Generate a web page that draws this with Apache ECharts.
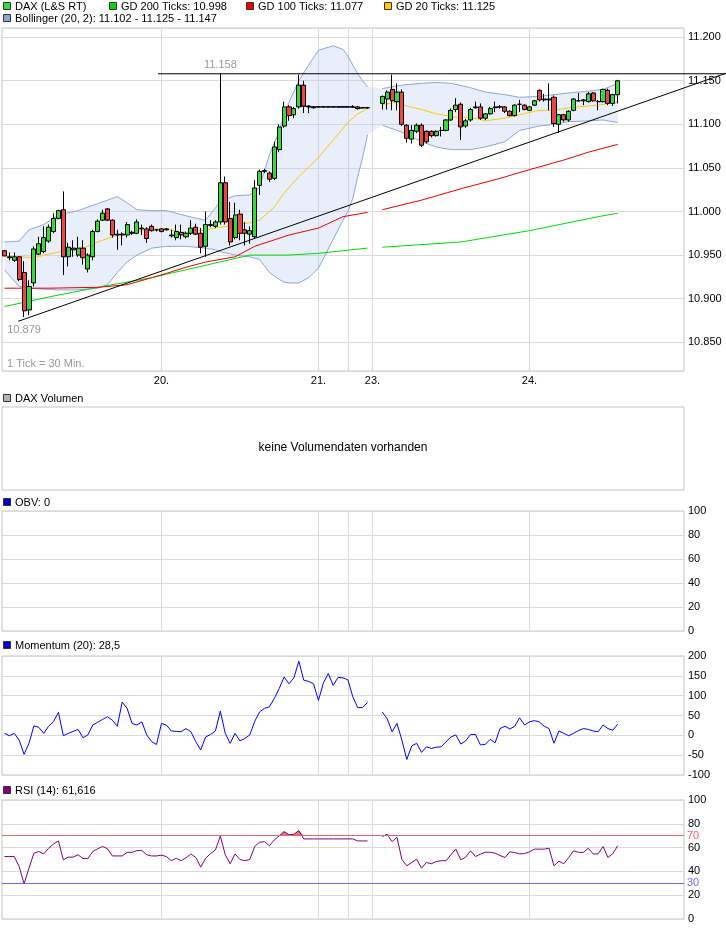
<!DOCTYPE html>
<html><head><meta charset="utf-8">
<script src="https://cdn.jsdelivr.net/npm/echarts@6/dist/echarts.min.js"></script>
<style>html,body{margin:0;padding:0;background:#fff}#c{width:726px;height:928px}</style>
</head><body><div id="c"></div>
<script>
// ---------------- DATA ----------------
// x slots (30-min ticks); day boundaries
const dayTicks = [32, 64, 70, 75, 107];
const dayNames = ['20.', '21.', '', '23.', '24.'];
// candles: [open, high, low, close], null = no data
const ohlc = [
[10955,10956,10949,10949],[10948,10953,10944,10947],[10944,10953,10942,10948],[10948,10949,10920,10922],
[10930,10943,10879,10886],[10887,10921,10881,10914],[10918,10960,10914,10957],[10951,10971,10950,10963],
[10954,10983,10952,10970],[10966,10985,10964,10982],[10977,10998,10975,10992],[10992,11002,10991,11001],
[11002,11023,10927,10948],[10948,10964,10937,10959],[10958,10967,10948,10956],[10950,10971,10948,10958],
[10958,10967,10939,10947],[10934,10952,10930,10950],[10948,10979,10944,10977],[10977,10991,10976,10989],
[10990,11002,10989,10998],[11003,11004,10989,10990],[10990,10991,10970,10973],[10973,10979,10956,10974],
[10974,10976,10961,10973],[10973,10988,10970,10985],[10976,10978,10973,10975],[10975,10991,10974,10988],
[10980,10985,10973,10981],[10980,10982,10964,10969],[10983,10985,10977,10978],[10979,10980,10977,10979],
[10980,10981,10976,10977],[10980,10981,10978,10979],[10972,10979,10970,10973],[10970,10985,10967,10977],
[10976,10985,10968,10973],[10971,10977,10969,10975],[10975,10990,10973,10981],[10982,10986,10973,10974],
[10975,10981,10952,10959],[10960,11000,10948,10985],[10984,10990,10982,10985],[10983,10990,10981,10988],
[10988,11158,10985,11033],[11033,11040,10985,10988],[10992,11011,10961,10965],[10970,11010,10968,10996],
[10997,11002,10967,10975],[10979,10988,10961,10975],[10974,10983,10963,10978],[10971,11036,10969,11027],
[11030,11048,11019,11046],[11046,11049,11044,11047],[11044,11046,11034,11037],[11038,11080,11036,11074],
[11071,11100,11068,11097],[11098,11126,11096,11120],[11120,11122,11104,11110],[11111,11120,11107,11118],
[11120,11157,11118,11145],[11145,11150,11113,11121],[11121,11122,11113,11120],[11119,11121,11118,11120],
[11120,11120,11120,11120],[11120,11120,11120,11120],[11120,11120,11120,11120],[11120,11120,11120,11120],
[11120,11120,11120,11120],[11120,11120,11120,11120],[11120,11120,11120,11120],[11120,11122,11119,11120],
[11120,11121,11117,11118],[11119,11119,11119,11119],[11119,11120,11118,11119],null,null,
[11124,11133,11117,11132],[11129,11139,11117,11137],[11140,11157,11116,11127],[11126,11147,11116,11137],
[11137,11140,11098,11100],[11099,11100,11079,11084],[11083,11099,11078,11093],[11092,11101,11090,11099],
[11099,11101,11074,11076],[11092,11093,11078,11080],[11092,11093,11085,11087],[11087,11093,11086,11092],
[11093,11097,11086,11093],[11093,11106,11092,11105],[11105,11118,11104,11116],[11117,11130,11114,11122],
[11123,11125,11082,11097],[11098,11106,11096,11104],[11105,11119,11103,11117],[11119,11126,11118,11120],
[11120,11124,11105,11107],[11107,11113,11105,11112],[11112,11120,11111,11118],[11119,11126,11114,11120],
[11120,11122,11118,11120],[11120,11121,11113,11115],[11115,11116,11109,11110],[11110,11123,11109,11122],
[11123,11128,11114,11123],[11122,11123,11116,11117],[11116,11121,11115,11120],[11122,11128,11121,11127],
[11139,11140,11126,11128],[11128,11135,11126,11129],[11128,11147,11116,11129],[11131,11133,11097,11101],
[11100,11112,11090,11111],[11111,11112,11103,11105],[11105,11116,11103,11115],[11116,11130,11115,11129],
[11127,11136,11126,11127],[11127,11129,11122,11128],[11126,11137,11125,11135],[11136,11137,11126,11127],
[11126,11128,11116,11126],[11126,11141,11125,11140],[11139,11141,11122,11124],[11124,11135,11121,11134],
[11134,11151,11124,11150]
];
// quiet (no-trade) stretch drawn as a flat close line: first and last tick
const flatRange = [60, 74];
// moving averages read at sample ticks: [tick, value]; '-' = break
const gd200 = [[0,10891],[10,10903],[20,10914],[30,10924],[33,10928],[40,10937],[50,10950],[58,10950],[64,10952],[74,10958],[75,'-'],
  [77,10959],[93,10965],[107,10978],[121,10994],[125,10998]];
const gd100 = [[0,10912],[9,10912],[19,10913],[25,10916],[30,10924],[33,10929],[37,10936],[41,10942],[47,10948],[51,10960],[58,10973],[64,10981],[69,10994],[74,10999],[75,'-'],
  [77,11002],[85,11013],[93,11026],[101,11038],[107,11048],[114,11059],[119,11068],[125,11077]];
const gd20 = [[0,10949],[6,10947],[9,10951],[13,10956],[16,10958],[19,10965],[23,10973],[26,10976],[30,10980],[33,10980],[37,10975],[41,10979],[44,10982],[50,10987],[52,10990],[55,11005],[57,11021],[60,11040],[64,11062],[67,11082],[70,11102],[72,11112],[74,11118],[75,'-'],
  [77,11123],[80,11125],[82,11121],[85,11117],[88,11112],[92,11108],[95,11108],[98,11104],[102,11107],[105,11111],[109,11116],[112,11116],[115,11119],[119,11121],[122,11123],[125,11125]];
// bollinger: [tick, lower, upper]
const bollinger = [[0,10933,10965],[3,10914,10966],[5,10912,10979],[8,10911,10985],[11,10910,10996],[15,10910,11001],[19,10912,11009],[21,10916,11013],[23,10930,11017],[25,10942,11010],[27,10950,11002],[30,10958,11001],[33,10960,11001],[37,10960,10995],[41,10958,10990],[43,10956,11004],[44,10954,11012],[47,10950,11018],[50,10948,11019],[52,10945,11028],[54,10930,11065],[56,10922,11092],[57,10919,11110],[58,10918,11125],[60,10918,11150],[62,10924,11168],[64,10935,11185],[67,10968,11190],[69,10990,11186],[70,11000,11178],[71,11015,11168],[72,11040,11158],[73,11062,11150],[74,11088,11143],[75,'-','-'],
  [77,11099,11141],[81,11091,11145],[85,11080,11147],[88,11074,11148],[91,11071,11147],[95,11071,11142],[98,11074,11137],[102,11080,11134],[105,11093,11131],[109,11098,11132],[112,11100,11134],[115,11103,11136],[119,11104,11138],[122,11105,11140],[125,11102,11147]];
// drawn lines: [tick, price]
const supportLine = [[2.8,10874],[147,11158.5]];
const resistanceLine = [[31.3,11158],[147,11158]];
// indicators per tick
const momentum = [5,-1,5,-12,-48,-20,24,20,5,23,35,58,-1,5,10,15,-6,1,26,33,
  40,47,38,23,84,68,30,26,34,1,-16,-23,30,26,11,10,9,17,9,-16,
  -37,-4,2,11,61,5,-20,5,-14,-8,1,35,59,68,72,93,118,147,130,145,
  187,139,136,130,88,132,156,126,146,145,140,97,70,70,83,'-','-',59,42,9,
  30,-12,-61,-27,-20,-43,-29,-33,-30,-29,-16,-4,1,-22,-14,2,2,-24,-23,-10,
  -19,17,23,16,23,44,26,34,37,34,23,17,-20,11,5,-1,5,12,17,15,
  11,9,26,17,13,28.5];
const rsi = [52.5,52.5,52.5,44,29.6,42.7,55.3,56.7,54.7,59.5,63,65.6,49.7,52,52,54,50.8,50.8,56.7,59,
  61,59,53,53,53,56,56,57.5,57.5,54,53,53,53.6,52.5,49,51,49,51.4,54.7,51.7,
  43.6,51,55,58,69.8,54,46.4,54.7,50,49,50,60.9,64.5,65,61.5,66.5,69.8,73.5,70.7,71.2,
  74.3,67.3,67.3,67.3,67.3,67.3,67.3,67.3,67.3,67.3,67.3,67.3,65.6,65.6,65.6,'-','-',69.3,71.2,65,
  68.7,50,44.7,47.5,50.3,42.7,47.5,46.4,48.3,49,49,54,58.7,49.7,52,57.3,52.5,54.5,56.1,56.1,
  55.3,53.4,51.7,56.4,55.9,54.7,55,56.4,58.7,58.7,58.7,59.5,44.7,48.6,46.4,51.7,57.3,56,56,59.5,
  54.7,54.7,60.9,51.7,55,61.616];
const rsiLevels = [70, 30];

// ---------------- LAYOUT / STYLE ----------------
const FONT = '"Liberation Sans", Arial, sans-serif';
const slotCount = 139;
const plotL = 2, plotW = 682;
const slotW = plotW / slotCount;
const cats = Array.from({length: slotCount}, (_, i) => String(i));
const dayLabel = i => { const k = dayTicks.indexOf(i); return k >= 0 ? dayNames[k] : ''; };
const isDay = i => dayTicks.indexOf(i) >= 0;
const fmt = v => Math.round(v).toString().replace(/\B(?=(\d{3})+(?!\d))/g, '.');
const last = arr => arr[arr.length - 1];
const GRID_LINE = '#dadada';
const FRAME = '#c4c4c4';

function catAxis(g, labels) {
  return {
    type: 'category', gridIndex: g, data: cats, boundaryGap: true,
    axisLine: {show: false}, axisTick: {show: false},
    axisLabel: labels ? {show: true, interval: 0, margin: 4, color: '#000', fontSize: 11, fontFamily: FONT,
      formatter: (v) => dayLabel(Number(v))} : {show: false},
    splitLine: {show: true, interval: (i) => isDay(i), alignWithLabel: true, lineStyle: {color: GRID_LINE, width: 1}}
  };
}
function valAxis(g, min, max, interval) {
  return {
    type: 'value', gridIndex: g, position: 'right', min, max, interval,
    axisLine: {show: false}, axisTick: {show: false},
    axisLabel: {color: '#000', fontSize: 11, fontFamily: FONT, margin: 4},
    splitLine: {lineStyle: {color: GRID_LINE, width: 1}}
  };
}
const gridBox = (top, height, show) => ({left: plotL, width: plotW, top, height, show: show !== false,
  borderColor: FRAME, borderWidth: 1, backgroundColor: '#fff'});

const pMin = 10817, pMax = 11210.5;

const candleData = ohlc.map(d => d ? [d[0], d[3], d[2], d[1]] : ['-', '-', '-', '-']);
const flatData = [];
for (let i = flatRange[0]; i <= flatRange[1]; i++) {
  if (ohlc[i]) flatData.push([i, i === flatRange[0] ? ohlc[i][0] : ohlc[i][3]]);
}
const bandRows = bollinger.filter(r => r[1] !== '-');   // fill bridges the data gap
const lineSeries = (name, data, color, extra) => Object.assign({
  name, type: 'line', xAxisIndex: 0, yAxisIndex: 0, data, symbol: 'none', showSymbol: false,
  connectNulls: false, lineStyle: {color, width: 1}, itemStyle: {color}, z: 3, silent: true
}, extra || {});

const option = {
  animation: false,
  grid: [
    gridBox(28, 343),
    {left: plotL, width: 724, top: 28, height: 343, show: false},
    gridBox(407, 83),
    gridBox(511, 120),
    gridBox(656, 119),
    gridBox(800, 119)
  ],
  xAxis: [
    catAxis(0, true),
    {type: 'value', gridIndex: 1, min: -0.5, max: 724 / slotW - 0.5, show: false},
    {type: 'category', gridIndex: 2, data: cats, show: false},
    catAxis(3), catAxis(4), catAxis(5)
  ],
  yAxis: [
    {type: 'value', gridIndex: 0, position: 'right', min: pMin, max: pMax, minInterval: 50, maxInterval: 50, splitNumber: 8,
      axisLine: {show: false}, axisTick: {show: false},
      axisLabel: {color: '#000', fontSize: 11, fontFamily: FONT, margin: 4, showMinLabel: false, showMaxLabel: false, formatter: v => fmt(v)},
      splitLine: {lineStyle: {color: GRID_LINE, width: 1}}},
    {type: 'value', gridIndex: 1, min: pMin, max: pMax, show: false},
    {type: 'value', gridIndex: 2, show: false, min: 0, max: 1},
    valAxis(3, 0, 100, 20),
    valAxis(4, -100, 200, 50),
    valAxis(5, 0, 100, 20)
  ],
  series: [
    lineSeries('bbBase', bandRows.map(r => [r[0], r[1]]), 'rgba(0,0,0,0)', {stack: 'bb', lineStyle: {opacity: 0}, z: 1}),
    lineSeries('bbBand', bandRows.map(r => [r[0], r[2] - r[1]]), 'rgba(0,0,0,0)',
      {stack: 'bb', lineStyle: {opacity: 0}, areaStyle: {color: 'rgba(185,205,240,0.32)', opacity: 1}, z: 1}),
    lineSeries('bbUpper', bollinger.map(r => [r[0], r[2]]), '#8ea7d6'),
    lineSeries('bbLower', bollinger.map(r => [r[0], r[1]]), '#8ea7d6'),
    lineSeries('GD 200', gd200, '#00dd00'),
    lineSeries('GD 100', gd100, '#ee0000'),
    lineSeries('GD 20', gd20, '#ffc800'),
    lineSeries('flat', flatData, '#000', {z: 4}),
    {
      name: 'DAX', type: 'candlestick', xAxisIndex: 0, yAxisIndex: 0, data: candleData, barWidth: 4.6, z: 5, silent: true,
      itemStyle: {color: '#33dd33', color0: '#ee4444', borderColor: '#000', borderColor0: '#000', borderColorDoji: '#000', borderWidth: 1},
      markPoint: {
        symbol: 'rect', symbolSize: 1, silent: true, itemStyle: {color: 'rgba(0,0,0,0)'},
        label: {show: true, color: '#999', fontSize: 11, fontFamily: FONT, formatter: p => fmt(p.value)},
        data: [
          {type: 'max', valueDim: 'highest', label: {position: 'top', distance: 3}},
          {type: 'min', valueDim: 'lowest', label: {position: 'bottom', distance: 7}}
        ]
      }
    },
    {type: 'line', xAxisIndex: 1, yAxisIndex: 1, data: supportLine, symbol: 'none', clip: false, z: 8, silent: true,
      lineStyle: {color: '#000', width: 1}},
    {type: 'line', xAxisIndex: 1, yAxisIndex: 1, data: resistanceLine, symbol: 'none', clip: false, z: 8, silent: true,
      lineStyle: {color: '#000', width: 1}},
    {name: 'Momentum', type: 'line', xAxisIndex: 4, yAxisIndex: 4, data: momentum, symbol: 'none', connectNulls: false,
      lineStyle: {color: '#0000ff', width: 1}, silent: true, z: 3},
    {type: 'line', xAxisIndex: 5, yAxisIndex: 5, data: rsi.map(v => v === '-' ? '-' : 70), stack: 'ob', symbol: 'none',
      lineStyle: {opacity: 0}, silent: true, z: 2},
    {type: 'line', xAxisIndex: 5, yAxisIndex: 5, data: rsi.map(v => v === '-' ? '-' : Math.max(0, v - 70)), stack: 'ob', symbol: 'none',
      lineStyle: {opacity: 0}, areaStyle: {color: '#f07070', opacity: 1}, silent: true, z: 2},
    {name: 'RSI', type: 'line', xAxisIndex: 5, yAxisIndex: 5, data: rsi, symbol: 'none', connectNulls: false,
      lineStyle: {color: '#800080', width: 1}, silent: true, z: 4,
      markLine: {symbol: 'none', silent: true, animation: false,
        label: {position: 'end', distance: 3, fontSize: 11, fontFamily: FONT},
        data: [
          {yAxis: rsiLevels[0], lineStyle: {color: '#e06a6a', type: 'solid', width: 1}, label: {color: '#ff5a5a', formatter: String(rsiLevels[0])}},
          {yAxis: rsiLevels[1], lineStyle: {color: '#6a6ae6', type: 'solid', width: 1}, label: {color: '#6a6aff', formatter: String(rsiLevels[1])}}
        ]}}
  ],
  graphic: []
};

// legends / titles
const mkSq = (x, y, fill) => ({type: 'rect', shape: {x: x + 0.5, y: y + 0.5, width: 7, height: 7}, style: {fill, stroke: '#333', lineWidth: 1}, silent: true});
const mkTx = (x, y, text, fill, size, align) => ({type: 'text', x, y, silent: true,
  style: {text, fill: fill || '#000', font: (size || 11) + 'px ' + FONT, textAlign: align || 'left', textVerticalAlign: 'middle'}});
const g = option.graphic;
g.push(mkSq(3, 2, '#33dd33'), mkTx(15, 6.5, 'DAX (L&S RT)'));
g.push(mkSq(109, 2, '#00dd00'), mkTx(121, 6.5, 'GD 200 Ticks: ' + fmt(last(gd200)[1])));
g.push(mkSq(246, 2, '#ee0000'), mkTx(258, 6.5, 'GD 100 Ticks: ' + fmt(last(gd100)[1])));
g.push(mkSq(384, 2, '#ffcc00'), mkTx(396, 6.5, 'GD 20 Ticks: ' + fmt(last(gd20)[1])));
g.push(mkSq(3, 14, '#8ea7d6'), mkTx(15, 18.5, 'Bollinger (20, 2): ' + fmt(last(bollinger)[1]) + ' - ' + fmt(last(gd20)[1]) + ' - ' + fmt(last(bollinger)[2])));
g.push(mkTx(7, 364, '1 Tick = 30 Min.', '#999'));
g.push(mkSq(3, 394, '#b4b4b4'), mkTx(15, 398.5, 'DAX Volumen'));
g.push(mkTx(plotL + plotW / 2, 448, 'keine Volumendaten vorhanden', '#000', 12, 'center'));
g.push(mkSq(3, 498, '#0000cc'), mkTx(15, 502.5, 'OBV: 0'));
g.push(mkSq(3, 641, '#0000cc'), mkTx(15, 645.5, 'Momentum (20): ' + String(last(momentum)).replace('.', ',')));
g.push(mkSq(3, 786, '#800080'), mkTx(15, 790.5, 'RSI (14): ' + last(rsi).toFixed(3).replace('.', ',')));

const chart = echarts.init(document.getElementById('c'), null, {renderer: 'canvas'});
chart.setOption(option);
</script>
</body></html>
